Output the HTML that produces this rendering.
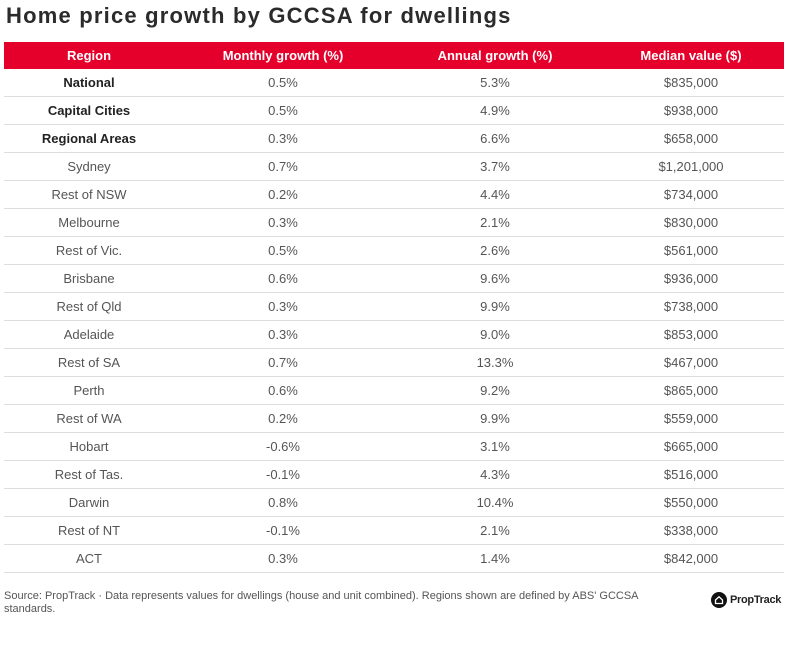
<!DOCTYPE html>
<html><head><meta charset="utf-8"><style>
body{margin:0;width:794px;height:647px;background:#fff;font-family:"Liberation Sans",sans-serif;overflow:hidden;position:relative}
h1{position:absolute;left:6px;top:3px;margin:0;font-size:22px;font-weight:bold;color:#2b2b2b;letter-spacing:1.2px}
table{position:absolute;left:4px;top:42px;width:780px;border-collapse:collapse;font-size:13px;color:#555}
th{background:#e4002b;color:#fff;height:27px;font-weight:bold;padding:0}
td{height:27px;border-bottom:1px solid #ddd;text-align:center;padding:0}
td.b{font-weight:bold;color:#222}
.foot{position:absolute;left:4px;top:590px;width:672px;font-size:11px;color:#555;line-height:13px}
.logo{position:absolute;left:711px;top:592px;display:flex;align-items:center;font-weight:bold;font-size:11px;color:#222;letter-spacing:-0.3px}
.logo span.c{width:16px;height:16px;border-radius:50%;background:#111;display:inline-block;margin-right:3px;position:relative}
</style></head><body>
<h1>Home price growth by GCCSA for dwellings</h1>
<table>
<colgroup><col style="width:170px"><col style="width:218px"><col style="width:206px"><col style="width:186px"></colgroup>
<thead><tr><th>Region</th><th>Monthly growth (%)</th><th>Annual growth (%)</th><th>Median value ($)</th></tr></thead>
<tbody id="tb"></tbody></table>
<div class="foot">Source: PropTrack · Data represents values for dwellings (house and unit combined). Regions shown are defined by ABS' GCCSA standards.</div>
<div class="logo"><span class="c"><svg width="16" height="16" viewBox="0 0 16 16"><path d="M4.5 8 L8 4.8 L11.5 8 V11.5 H4.5 Z" fill="none" stroke="#fff" stroke-width="1.3"/></svg></span>PropTrack</div>
<script>
const regions=["National","Capital Cities","Regional Areas","Sydney","Rest of NSW","Melbourne","Rest of Vic.","Brisbane","Rest of Qld","Adelaide","Rest of SA","Perth","Rest of WA","Hobart","Rest of Tas.","Darwin","Rest of NT","ACT"];
const monthly=["0.5%","0.5%","0.3%","0.7%","0.2%","0.3%","0.5%","0.6%","0.3%","0.3%","0.7%","0.6%","0.2%","-0.6%","-0.1%","0.8%","-0.1%","0.3%"];
const annual=["5.3%","4.9%","6.6%","3.7%","4.4%","2.1%","2.6%","9.6%","9.9%","9.0%","13.3%","9.2%","9.9%","3.1%","4.3%","10.4%","2.1%","1.4%"];
const median=["$835,000","$938,000","$658,000","$1,201,000","$734,000","$830,000","$561,000","$936,000","$738,000","$853,000","$467,000","$865,000","$559,000","$665,000","$516,000","$550,000","$338,000","$842,000"];
const tb=document.getElementById('tb');
regions.forEach((r,i)=>{
const tr=document.createElement('tr');


[r,monthly[i],annual[i],median[i]].forEach((v,j)=>{
const td=document.createElement('td');td.textContent=v;
if(j===0&&i<3)td.className='b';
tr.appendChild(td);});
tb.appendChild(tr);});
</script>
</body></html>
